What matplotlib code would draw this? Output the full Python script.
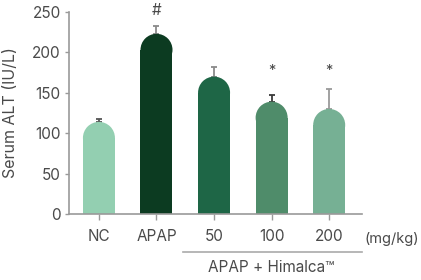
import matplotlib

matplotlib.use("Agg")
import matplotlib.pyplot as plt
from matplotlib.patches import Ellipse, Rectangle
from matplotlib.transforms import blended_transform_factory

groups = ["NC", "APAP", "50", "100", "200"]
alt_mean = [114, 223, 170, 139, 130]
alt_err = [3, 10, 12, 8, 25]
marks = ["", "#", "", "*", "*"]
bar_colors = ["#93cfb1", "#0c3b21", "#1e6646", "#4f8c6a", "#76b094"]
err_colors = ["#555555", "#8a8a8a", "#8a8a8a", "#3a3a3a", "#9a9a9a"]

plt.rcParams["font.family"] = ["Inter", "DejaVu Sans"]
text_color = "#4a4a4a"
axis_color = "#9a9a9a"
fs = 11

W, H = 421, 280
fig = plt.figure(figsize=(W / 100, H / 100), dpi=100)
# axes box in pixels: x 69..362, y 12..214
ax = fig.add_axes([69 / W, (H - 214) / H, (362 - 69) / W, (214 - 12) / H])
xmin, xmax, ymin, ymax = -0.52, 4.57, 0, 250
ax.set_xlim(xmin, xmax)
ax.set_ylim(ymin, ymax)

# rounded bar tops: semicircle of radius = half bar width (in pixels)
bar_w = 0.556
px_per_x = (362 - 69) / (xmax - xmin)
px_per_y = (214 - 12) / (ymax - ymin)
cap_h = bar_w * px_per_x / px_per_y  # full ellipse height in data units

for i, (v, c) in enumerate(zip(alt_mean, bar_colors)):
    base = v - cap_h / 2
    ax.add_patch(Rectangle((i - bar_w / 2, 0), bar_w, base, color=c, lw=0, zorder=2))
    ax.add_patch(Ellipse((i, base), bar_w, cap_h, color=c, lw=0, zorder=2))
    ax.errorbar(i, v, yerr=[[0], [alt_err[i]]], fmt="none", ecolor=err_colors[i],
                elinewidth=1.3, capsize=2.3, capthick=1.3, zorder=1)

for i, m in enumerate(marks):
    if m == "#":
        ax.text(i, 252, m, ha="center", va="center", fontsize=11, color=text_color, clip_on=False)
    elif m:
        ax.text(i, 177, m, ha="center", va="center", fontsize=10.5, color=text_color)

ax.set_xticks(range(len(groups)))
ax.set_xticklabels(groups)
ax.set_yticks([0, 50, 100, 150, 200, 250])
ax.tick_params(axis="x", length=4, width=1, color=axis_color, pad=6.5, labelsize=fs, labelcolor=text_color)
ax.tick_params(axis="y", length=3, width=1, color=axis_color, pad=3, labelsize=fs, labelcolor=text_color)
for s in ["top", "right"]:
    ax.spines[s].set_visible(False)
for s in ["left", "bottom"]:
    ax.spines[s].set_color(axis_color)
    ax.spines[s].set_linewidth(1.2)

ax.set_ylabel("Serum ALT (IU/L)", fontsize=11.5, color=text_color)
ax.yaxis.set_label_coords(-51 / (362 - 69), 0.5)

# group bracket under the dose bars
tr = blended_transform_factory(ax.transData, fig.transFigure)
ax.plot([1.46, xmax], [(H - 252) / H] * 2, color="#aaaaaa", lw=1.2, transform=tr, clip_on=False)
ax.text(3, (H - 268) / H, "APAP + Himalca\u2122", transform=tr, ha="center", va="center",
        fontsize=fs, color=text_color)
fig.text(392 / W, (H - 239) / H, "(mg/kg)", ha="center", va="center", fontsize=10.5, color=text_color)

fig.savefig("out.png", dpi=100)
